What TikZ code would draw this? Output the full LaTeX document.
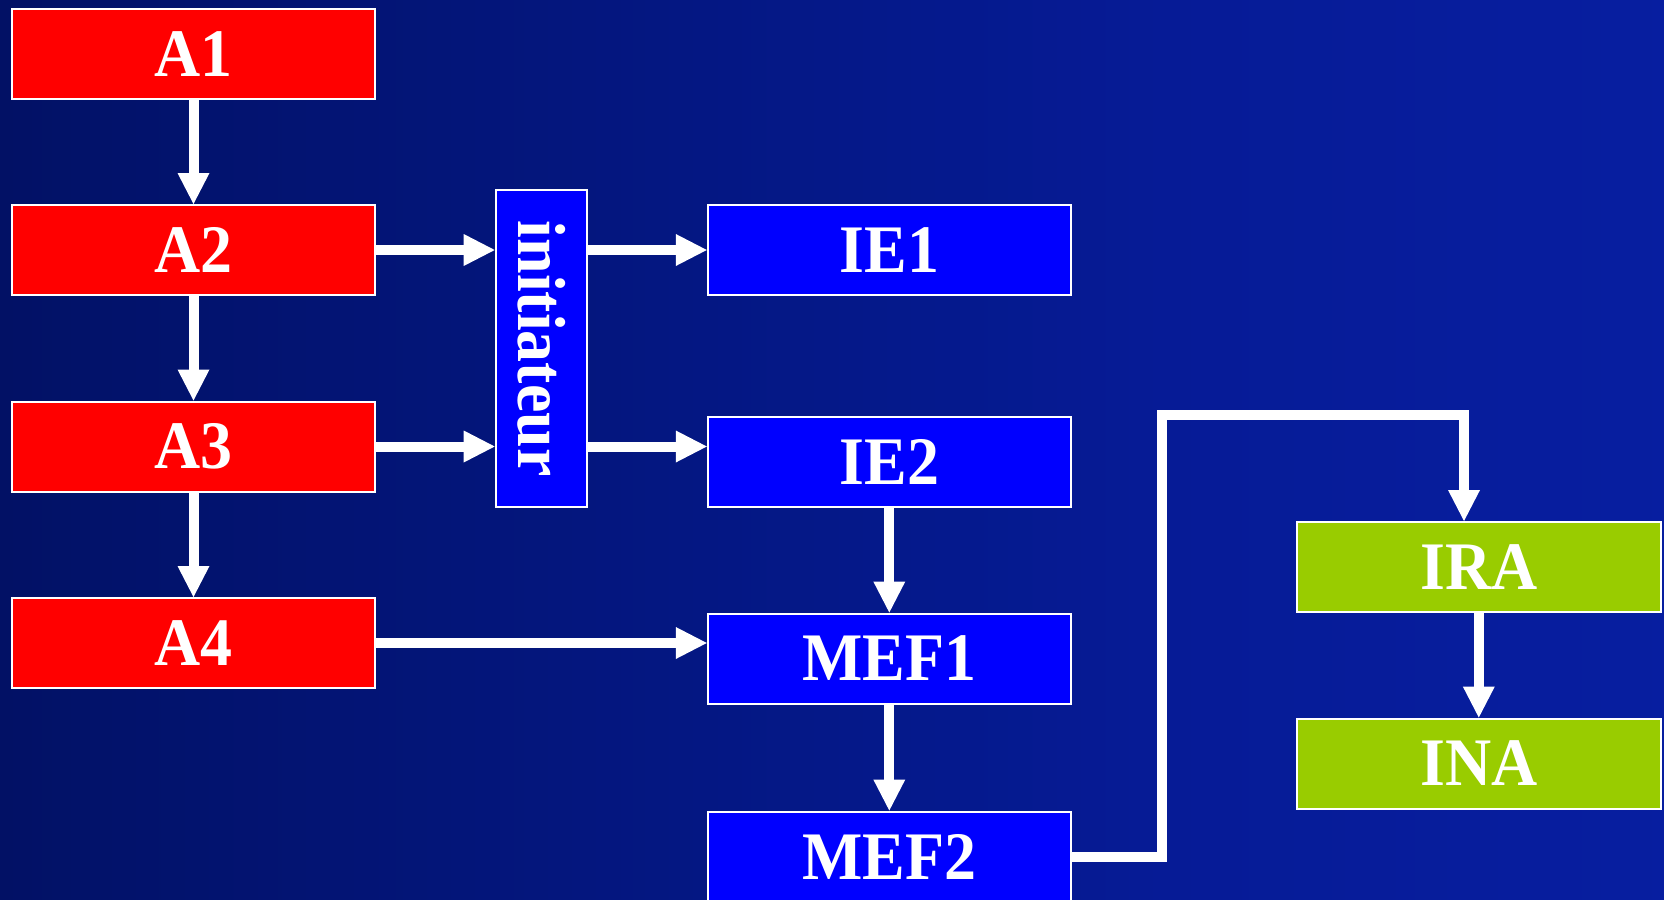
\documentclass[tikz,border=0pt]{standalone}
\usepackage{fontspec}
\usetikzlibrary{arrows.meta}
\newfontfamily\lbl[FakeStretch=0.94]{Liberation Serif}
\definecolor{bgA}{HTML}{000A3A}
\definecolor{bgB}{HTML}{02126A}
\definecolor{bgM}{HTML}{061B96}
\definecolor{bgC}{HTML}{0A23B0}
\definecolor{boxred}{HTML}{FF0000}
\definecolor{boxblue}{HTML}{0000FF}
\definecolor{boxgreen}{HTML}{99CC00}
\pgfdeclarehorizontalshading{bgshade}{100bp}{color(0bp)=(bgA); color(28bp)=(bgB); color(60bp)=(bgM); color(100bp)=(bgC)}
\tikzset{
  box/.style={draw=white, line width=2pt, minimum width=363pt, minimum height=90pt,
    inner sep=0pt, text=white, font=\lbl\bfseries\fontsize{68pt}{70pt}\selectfont},
  redbox/.style={box, fill=boxred},
  bluebox/.style={box, fill=boxblue},
  greenbox/.style={box, fill=boxgreen},
  conn/.style={draw=white, line width=10pt,
    -{Triangle[width=32pt,length=31pt,line width=0pt]}}
}
\begin{document}
\begin{tikzpicture}[x=1pt,y=-1pt]
\useasboundingbox (0,0) rectangle (1664,899);
\shade[shading=bgshade] (0,0) rectangle (1664,899);

\node[redbox] (A1) at (193.5,53.7) {A1};
\node[redbox] (A2) at (193.5,250) {A2};
\node[redbox] (A3) at (193.5,446.5) {A3};
\node[redbox] (A4) at (193.5,643) {A4};

\node[bluebox, minimum width=91pt, minimum height=317pt] (init) at (541.2,348.6) {};
\node[text=white, font=\lbl\bfseries\fontsize{68pt}{70pt}\selectfont, rotate=-90, inner sep=0pt] (initlbl) at (init.center) {initiateur};

\node[bluebox] (IE1) at (889.3,250) {IE1};
\node[bluebox] (IE2) at (889.3,462) {IE2};
\node[bluebox] (MEF1) at (889.3,658.5) {MEF1};
\node[bluebox] (MEF2) at (889.3,856.5) {MEF2};

\node[greenbox, minimum width=364pt] (IRA) at (1478.8,567) {IRA};
\node[greenbox, minimum width=364pt] (INA) at (1478.8,763.5) {INA};

\coordinate (b1) at (1162,415);
\coordinate (b2) at (1464,415);

\draw[conn] (A1) -- (A2);
\draw[conn] (A2) -- (A3);
\draw[conn] (A3) -- (A4);
\draw[conn] (A2.east) -- (init.west |- A2);
\draw[conn] (A3.east) -- (init.west |- A3);
\draw[conn] (init.east |- IE1) -- (IE1.west);
\draw[conn] (init.east |- A3) -- (IE2.west |- A3);
\draw[conn] (A4.east) -- (MEF1.west |- A4);
\draw[conn] (IE2) -- (MEF1);
\draw[conn] (MEF1) -- (MEF2);
\draw[conn] (MEF2.east) -| (b1) -- (b2) -- (b2 |- IRA.north);
\draw[conn] (IRA) -- (INA);
\end{tikzpicture}
\end{document}
